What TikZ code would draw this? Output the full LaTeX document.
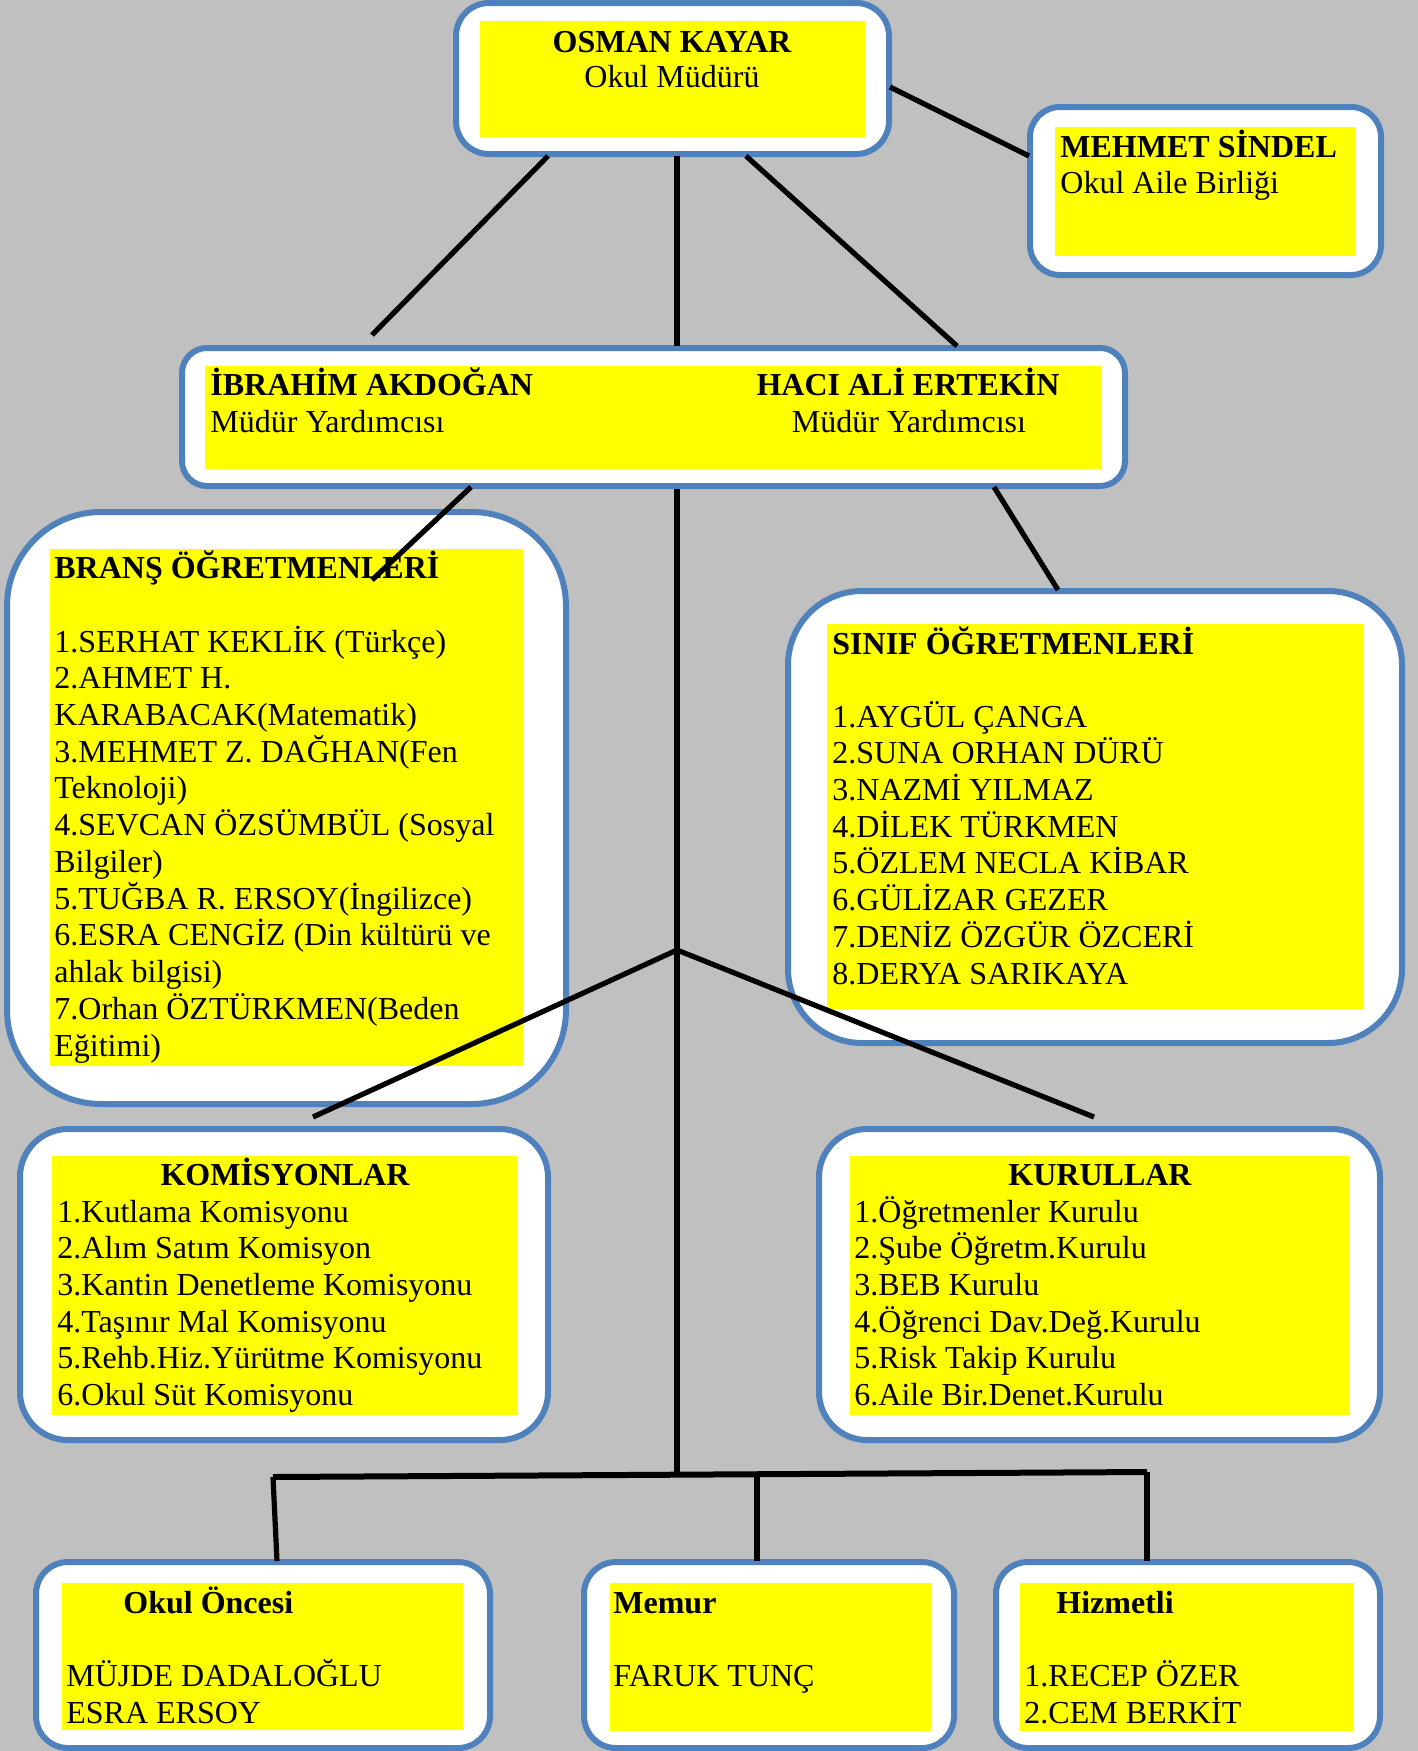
\documentclass[tikz,border=0pt]{standalone}
\usepackage{fontspec}
\setmainfont{Liberation Serif}
\usetikzlibrary{fit}
\definecolor{bgc}{HTML}{C0C0C0}
\definecolor{bord}{HTML}{4F81BD}
\definecolor{yel}{HTML}{FFFF00}
\tikzset{
  frame/.style={draw=bord, line width=3pt, fill=white, inner sep=0pt},
  yfill/.style={fill=yel, inner sep=0pt},
  txt/.style={inner sep=0pt, anchor=base west, font=\fontsize{16}{18.35}\selectfont},
  btxt/.style={txt, font=\fontsize{16}{18.35}\selectfont\bfseries},
  conn/.style={draw=black, line width=2.6pt},
  barline/.style={draw=black, line width=3pt},
}
\begin{document}
\begin{tikzpicture}[x=0.5pt, y=-0.5pt]
\useasboundingbox (0,0) rectangle (1418,1751);
\fill[bgc] (0,0) rectangle (1418,1751);

% ---------- frames ----------
\node[frame, rounded corners=16.5pt, fit={(456,3) (889,154)}] (osman) {};
\node[frame, rounded corners=15pt, fit={(1030,107) (1381,275)}] (mehmet) {};
\node[frame, rounded corners=12.5pt, fit={(182,348) (1125,486)}] (mudur) {};
\node[frame, rounded corners=47pt, fit={(7,512) (566,1104)}] (brans) {};
\node[frame, rounded corners=37pt, fit={(788,591) (1402,1043)}] (sinif) {};
\node[frame, rounded corners=24pt, fit={(20,1129) (548,1440)}] (komis) {};
\node[frame, rounded corners=24pt, fit={(819,1129) (1380,1440)}] (kurul) {};
\node[frame, rounded corners=16pt, fit={(36,1562) (490,1748)}] (okul) {};
\node[frame, rounded corners=16pt, fit={(584,1562) (954,1748)}] (memur) {};
\node[frame, rounded corners=16pt, fit={(996,1562) (1380,1748)}] (hizmet) {};

% ---------- yellow areas ----------
\node[yfill, fit={(480,21) (865,137)}] (yosman) {};
\node[yfill, fit={(1055,127) (1356,256)}] (ymehmet) {};
\node[yfill, fit={(205,366) (1102,469)}] (ymudur) {};
\node[yfill, fit={(50,549) (523,1066)}] (ybrans) {};
\node[yfill, fit={(827,624) (1363,1009)}] (ysinif) {};
\node[yfill, fit={(52,1156) (517,1415)}] (ykomis) {};
\node[yfill, fit={(850,1156) (1349,1415)}] (ykurul) {};
\node[yfill, fit={(62,1583) (463,1730)}] (yokul) {};
\node[yfill, fit={(610,1583) (931,1731)}] (ymemur) {};
\node[yfill, fit={(1020,1583) (1354,1731)}] (yhizmet) {};

% ---------- texts ----------
\node[btxt, anchor=base] (t-osman) at (672,52) {OSMAN KAYAR};
\node[txt, anchor=base] (t-osman2) at (672,87) {Okul Müdürü};

\node[btxt] (t-mehmet) at (1060,157) {MEHMET SİNDEL};
\node[txt] (t-mehmet2) at (1060,193) {Okul Aile Birliği};

\node[btxt] (t-ibr) at (210,395) {İBRAHİM AKDOĞAN};
\node[txt] (t-ibr2) at (210,432) {Müdür Yardımcısı};
\node[btxt, anchor=base] (t-haci) at (908,395) {HACI ALİ ERTEKİN};
\node[txt, anchor=base] (t-haci2) at (909,432) {Müdür Yardımcısı};

\node[btxt] (t-brans) at (54,578) {BRANŞ ÖĞRETMENLERİ};
\foreach \lin [count=\i from 0] in {
  {1.SERHAT KEKLİK (Türkçe)},
  {2.AHMET H.},
  {KARABACAK(Matematik)},
  {3.MEHMET Z. DAĞHAN(Fen},
  {Teknoloji)},
  {4.SEVCAN ÖZSÜMBÜL (Sosyal},
  {Bilgiler)},
  {5.TUĞBA R. ERSOY(İngilizce)},
  {6.ESRA CENGİZ (Din kültürü ve},
  {ahlak bilgisi)},
  {7.Orhan ÖZTÜRKMEN(Beden},
  {Eğitimi)}}
  \node[txt] (br\i) at (54,{652+36.73*\i}) {\lin};

\node[btxt] (t-sinif) at (832,654) {SINIF ÖĞRETMENLERİ};
\foreach \lin [count=\i from 0] in {
  {1.AYGÜL ÇANGA},
  {2.SUNA ORHAN DÜRÜ},
  {3.NAZMİ YILMAZ},
  {4.DİLEK TÜRKMEN},
  {5.ÖZLEM NECLA KİBAR},
  {6.GÜLİZAR GEZER},
  {7.DENİZ ÖZGÜR ÖZCERİ},
  {8.DERYA SARIKAYA}}
  \node[txt] (si\i) at (832,{727+36.73*\i}) {\lin};

\node[btxt, anchor=base] (t-komis) at (285,1185) {KOMİSYONLAR};
\foreach \lin [count=\i from 0] in {
  {1.Kutlama Komisyonu},
  {2.Alım Satım Komisyon},
  {3.Kantin Denetleme Komisyonu},
  {4.Taşınır Mal Komisyonu},
  {5.Rehb.Hiz.Yürütme Komisyonu},
  {6.Okul Süt Komisyonu}}
  \node[txt] (ko\i) at (57,{1222+36.73*\i}) {\lin};

\node[btxt, anchor=base] (t-kurul) at (1100,1185) {KURULLAR};
\foreach \lin [count=\i from 0] in {
  {1.Öğretmenler Kurulu},
  {2.Şube Öğretm.Kurulu},
  {3.BEB Kurulu},
  {4.Öğrenci Dav.Değ.Kurulu},
  {5.Risk Takip Kurulu},
  {6.Aile Bir.Denet.Kurulu}}
  \node[txt] (ku\i) at (854,{1222+36.73*\i}) {\lin};

\node[btxt] (t-okul) at (123,1613) {Okul Öncesi};
\node[txt] (t-okul1) at (66,1686) {MÜJDE DADALOĞLU};
\node[txt] (t-okul2) at (66,1723) {ESRA ERSOY};

\node[btxt] (t-memur) at (613,1613) {Memur};
\node[txt] (t-memur1) at (613,1686) {FARUK TUNÇ};

\node[btxt] (t-hizmet) at (1056,1613) {Hizmetli};
\node[txt] (t-hizmet1) at (1024,1686) {1.RECEP ÖZER};
\node[txt] (t-hizmet2) at (1024,1723) {2.CEM BERKİT};

% ---------- connector end points ----------
\coordinate (osR) at (890,87);
\coordinate (meL) at (1029,156);
\coordinate (osB1) at (548,156);
\coordinate (ibrTop) at (372,335);
\coordinate (osB2) at (677,156);
\coordinate (muT) at (677,346);
\coordinate (osB3) at (746,156);
\coordinate (haciTop) at (957,346);
\coordinate (muB1) at (471,487);
\coordinate (brIn) at (372,580);
\coordinate (muB3) at (994,487);
\coordinate (siT) at (1058,590);
\coordinate (muB2) at (677,489);
\coordinate (junc) at (677,950);
\coordinate (koTop) at (313,1117);
\coordinate (kuTop) at (1094,1117);
\coordinate (barM) at (677,1474);
\coordinate (barL) at (273,1477);
\coordinate (barR) at (1147,1472);
\coordinate (barC) at (757,1475);
\coordinate (okT) at (277,1561);
\coordinate (meT) at (757,1561);
\coordinate (hiT) at (1147,1561);

% ---------- connectors ----------
\draw[conn] (osR) -- (meL);
\draw[conn] (osB1) -- (ibrTop);
\draw[conn] (osB2) -- (muT);
\draw[conn] (osB3) -- (haciTop);
\draw[conn] (muB1) -- (brIn);
\draw[conn] (muB3) -- (siT);
\draw[conn] (muB2) -- (barM);
\draw[conn] (junc) -- (koTop);
\draw[conn] (junc) -- (kuTop);
\draw[barline] (barL) -- (barR);
\draw[conn] (barL) -- (okT);
\draw[conn] (barC) -- (meT);
\draw[conn] (barR) -- (hiT);
\end{tikzpicture}
\end{document}
